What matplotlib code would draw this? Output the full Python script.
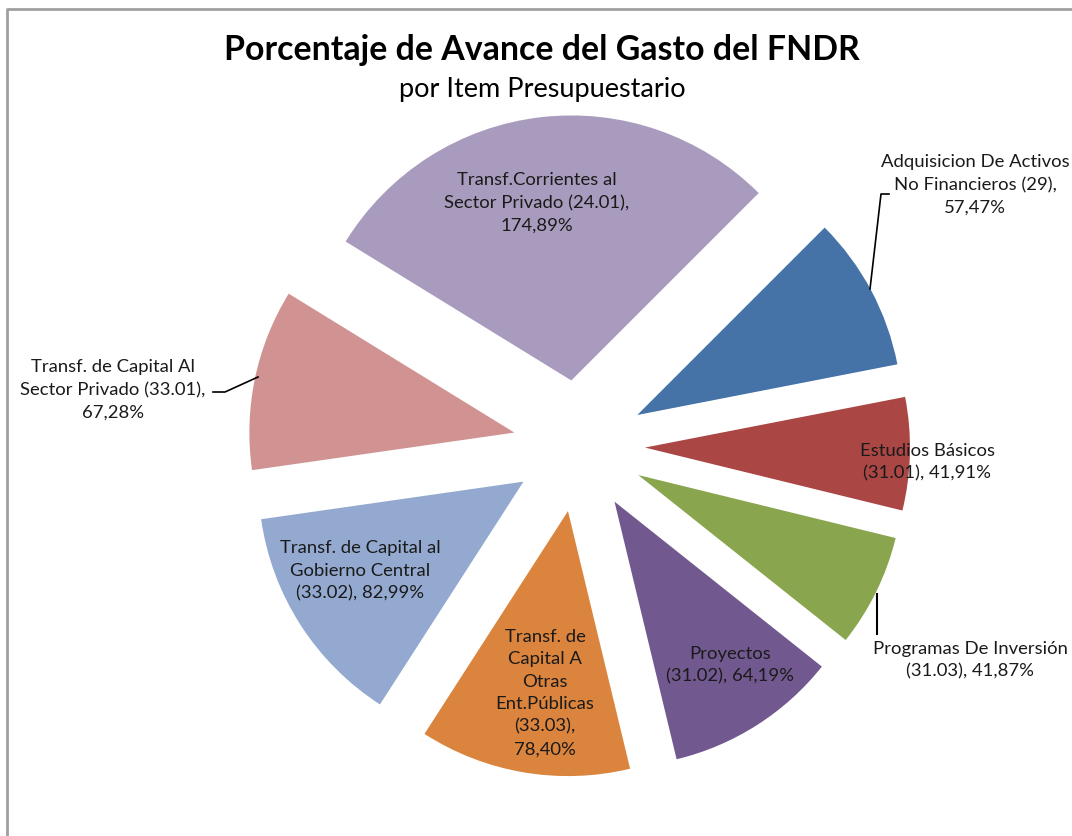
import matplotlib
matplotlib.use("Agg")
import matplotlib.pyplot as plt

# Data (percent of spending progress per budget item)
labels = [
    "Adquisicion De Activos\nNo Financieros (29),\n57,47%",
    "Estudios Básicos\n(31.01), 41,91%",
    "Programas De Inversión\n(31.03), 41,87%",
    "Proyectos\n(31.02), 64,19%",
    "Transf. de\nCapital A\nOtras\nEnt.Públicas\n(33.03),\n78,40%",
    "Transf. de Capital al\nGobierno Central\n(33.02), 82,99%",
    "Transf. de Capital Al\nSector Privado (33.01),\n67,28%",
    "Transf.Corrientes al\nSector Privado (24.01),\n174,89%",
]
values = [57.47, 41.91, 41.87, 64.19, 78.40, 82.99, 67.28, 174.89]
colors = ["#4572A7", "#AA4643", "#89A54E", "#71588F",
          "#DB843D", "#93A9CF", "#D19392", "#A99BBD"]

W, H = 1072, 837

# label centres in pixel coords (x, y from top)
label_pos = [(975, 185), (927, 462), (970, 660), (730, 665),
             (545, 693), (360, 571), (113, 390), (537, 203)]


def px(x, y):
    return x, H - y


fig = plt.figure(figsize=(W / 100, H / 100), dpi=100)
ax = fig.add_axes([0, 0, 1, 1])

# explode is in data units (pixels here)
ax.pie(values, colors=colors, startangle=45, counterclock=False,
       explode=[66] * len(values), radius=265, center=px(579, 447),
       wedgeprops=dict(linewidth=0))

ax.set_xlim(0, W)
ax.set_ylim(0, H)
ax.set_aspect("equal")
ax.axis("off")

font = "Lato"
for lab, (x, y) in zip(labels, label_pos):
    ax.text(*px(x, y), lab, ha="center", va="center", multialignment="center",
            fontsize=13.3, family=font, color="#1a1a1a", linespacing=1.5)

# leader lines
ax.plot(*zip(px(870, 290), px(881, 195), px(889, 195)), color="black", lw=1.2)
ax.plot(*zip(px(258, 378), px(225, 393), px(213, 393)), color="black", lw=1.2)
ax.plot(*zip(px(877, 595), px(877, 635)), color="black", lw=1.5)

# titles
ax.text(*px(542, 50), "Porcentaje de Avance del Gasto del FNDR", ha="center",
        va="center", fontsize=24.4, fontweight="bold", family=font)
ax.text(*px(542, 89), "por Item Presupuestario", ha="center", va="center",
        fontsize=19.5, family=font)

# chart border (top and left visible)
ax.plot(*zip(px(7, H), px(7, 9.5), px(W, 9.5)), color="#a0a0a0", lw=2)

fig.savefig("out.png", dpi=100)
